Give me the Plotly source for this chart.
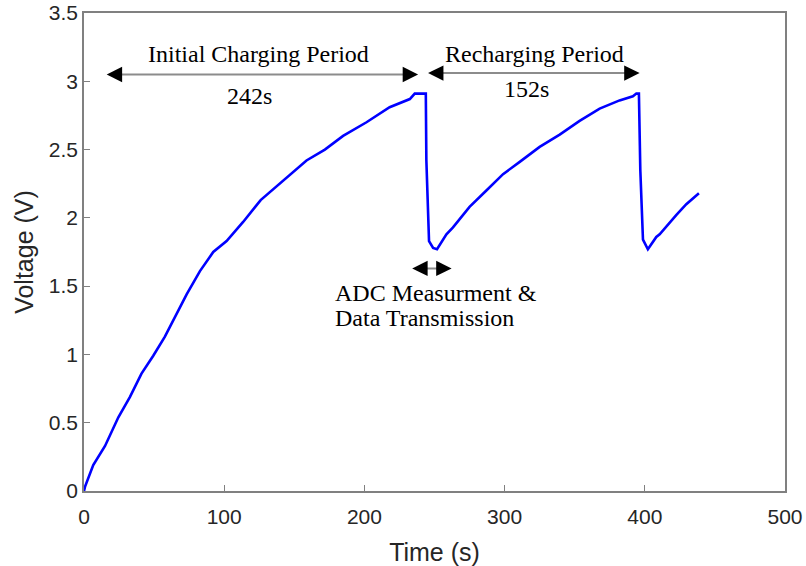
import plotly.graph_objects as go

# time (s) and voltage (V)
time_s = [0, 0.7, 6.6, 15, 24.5, 32.8, 41, 49.4, 57.7, 66, 73.2, 82.7, 92.2, 101.7,
          113.5, 126, 142, 158.7, 171.8, 184.8, 201.5, 218, 232.4, 235.9, 243.8,
          244.2, 246.1, 249, 251.8, 258.5, 263.2, 268, 275, 287, 298.9, 310.8, 325,
          339.3, 353.5, 367.8, 382, 391.5, 394, 395.8, 396.8, 398.7, 402.2, 408.2,
          410.6, 422.4, 429.6, 438.6]
voltage = [0.0, 0.03, 0.19, 0.33, 0.54, 0.69, 0.86, 0.99, 1.13, 1.30, 1.44, 1.61, 1.75, 1.83,
           1.97, 2.13, 2.27, 2.42, 2.50, 2.60, 2.70, 2.81, 2.87, 2.91, 2.91,
           2.42, 1.83, 1.78, 1.77, 1.88, 1.93, 1.99, 2.08, 2.20, 2.32, 2.41, 2.52,
           2.61, 2.71, 2.80, 2.86, 2.89, 2.91, 2.91, 2.35, 1.84, 1.77, 1.86,
           1.88, 2.02, 2.10, 2.18]

x_ticks = [0, 100, 200, 300, 400, 500]
y_ticks = [0, 0.5, 1, 1.5, 2, 2.5, 3, 3.5]
y_tick_labels = ["0", "0.5", "1", "1.5", "2", "2.5", "3", "3.5"]

# double arrows: (x_start, x_end, y)
arrows = [(16.2, 238.3, 3.05), (245.4, 396.3, 3.06), (234.1, 262.2, 1.63)]

SERIF = "Liberation Serif, Times New Roman, serif"
SANS = "Liberation Sans, Arial, sans-serif"
AXIS_GRAY = "#808080"

fig = go.Figure()
fig.add_trace(go.Scatter(
    x=time_s, y=voltage, mode="lines",
    line=dict(color="#0000ff", width=2.6),
    showlegend=False,
))

shapes = []
annotations = []
for x0, x1, y in arrows:
    shapes.append(dict(type="line", xref="x", yref="y", x0=x0 + 2, x1=x1 - 2, y0=y, y1=y,
                       line=dict(color="#8c8c8c", width=2)))
    for tip, off in ((x1, -15), (x0, 15)):
        annotations.append(dict(
            x=tip, y=y, xref="x", yref="y", ax=off, ay=0, text="",
            showarrow=True, arrowhead=2, arrowsize=1.4, arrowwidth=2.2,
            arrowcolor="black",
        ))

labels = [
    ("Initial Charging Period", 124.2, 3.2, "center"),
    ("242s", 118.3, 2.89, "center"),
    ("Recharging Period", 321.4, 3.2, "center"),
    ("152s", 315.5, 2.94, "center"),
    ("ADC Measurment &", 177.5, 1.45, "left"),
    ("Data Transmission", 177.5, 1.27, "left"),
]
for txt, x, y, anchor in labels:
    annotations.append(dict(
        x=x, y=y, xref="x", yref="y", text=txt, showarrow=False,
        xanchor=anchor, yanchor="middle",
        font=dict(family=SERIF, size=24, color="black"),
    ))

axis_common = dict(
    showline=True, mirror=True, linecolor=AXIS_GRAY, linewidth=1.5,
    ticks="inside", ticklen=6, tickcolor=AXIS_GRAY, tickwidth=1.2,
    showgrid=False, zeroline=False, automargin=False,
    tickfont=dict(family=SANS, size=21, color="#262626"),
)

fig.update_layout(
    width=806, height=566,
    margin=dict(l=84, r=21, t=13, b=75),
    plot_bgcolor="white", paper_bgcolor="white",
    xaxis=dict(range=[0, 500], tickvals=x_ticks, ticklabelstandoff=6,
               title=dict(text="Time (s)", font=dict(family=SANS, size=25, color="#262626"),
                          standoff=18),
               **axis_common),
    yaxis=dict(range=[0, 3.5], tickvals=y_ticks, ticktext=y_tick_labels,
               title=dict(text="Voltage (V)", font=dict(family=SANS, size=25, color="#262626"),
                          standoff=8),
               **axis_common),
    shapes=shapes,
    annotations=annotations,
)

# drop the page's default body margin so the figure sits at the window corner
fig.write_html("out.html", config={"displayModeBar": False},
               post_script="document.body.style.margin='0';")
